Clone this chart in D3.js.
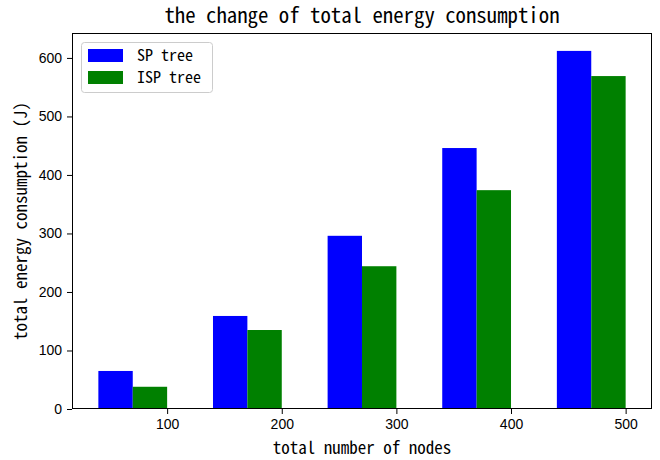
<!DOCTYPE html>
<html>
<head>
<meta charset="utf-8">
<script src="https://cdn.jsdelivr.net/npm/d3@7"></script>
<style>
  html, body { margin: 0; padding: 0; background: #fff; }
  svg { display: block; }
  .lbl { font-family: "Noto Sans Mono CJK SC", "DejaVu Sans Mono", monospace; font-weight: 300; fill: #000; }
  .tick text { font-family: "Liberation Sans", Arial, sans-serif; }
</style>
</head>
<body>
<svg id="chart" width="660" height="460"></svg>
<script>
// Node counts on the x axis and total energy (J) for each tree type
const nodeCounts = [100, 200, 300, 400, 500];
const spTree = [65, 159, 296, 446, 612];
const ispTree = [38, 135, 244, 374, 569];
const seriesNames = ["SP tree", "ISP tree"];
const seriesColors = ["#0000ff", "#008000"];
const xTicks = [100, 200, 300, 400, 500];
const yTicks = [0, 100, 200, 300, 400, 500, 600];

const barWidth = 30;
const margin = { left: 72, right: 8, top: 33, bottom: 51 };
const W = 660, H = 460;

const svg = d3.select("#chart");

const x = d3.scaleLinear()
  .domain([17, 523])
  .range([margin.left, W - margin.right]);
const y = d3.scaleLinear()
  .domain([0, 612 * 1.05])
  .range([H - margin.bottom, margin.top]);

// bars: SP tree sits left of the tick, ISP tree ends at the tick
const series = [spTree, ispTree];
series.forEach((vals, si) => {
  svg.append("g")
    .selectAll("rect")
    .data(nodeCounts.map((n, i) => ({ n, v: vals[i] })))
    .join("rect")
    .attr("x", d => x(d.n - barWidth * (2 - si)))
    .attr("width", d => x(d.n - barWidth * (1 - si)) - x(d.n - barWidth * (2 - si)))
    .attr("y", d => y(d.v))
    .attr("height", d => y(0) - y(d.v))
    .attr("fill", seriesColors[si]);
});

// axes
const xAxis = svg.append("g")
  .attr("transform", `translate(0,${H - margin.bottom})`)
  .call(d3.axisBottom(x).tickValues(xTicks).tickSize(5).tickPadding(5));
const yAxis = svg.append("g")
  .attr("transform", `translate(${margin.left},0)`)
  .call(d3.axisLeft(y).tickValues(yTicks).tickSize(5).tickPadding(5));
[xAxis, yAxis].forEach(g => {
  g.select(".domain").remove();
  g.selectAll(".tick line").attr("stroke", "#000").attr("stroke-width", 1);
  g.selectAll(".tick text").attr("font-size", 14).attr("fill", "#000");
});

// frame
svg.append("rect")
  .attr("x", margin.left + 0.5)
  .attr("y", margin.top + 0.5)
  .attr("width", W - margin.right - margin.left - 1)
  .attr("height", H - margin.bottom - margin.top - 1)
  .attr("fill", "none")
  .attr("stroke", "#000")
  .attr("stroke-width", 1);

// title and axis labels
const cx = (margin.left + W - margin.right) / 2;
svg.append("text").attr("class", "lbl")
  .attr("x", cx).attr("y", 23)
  .attr("text-anchor", "middle").attr("font-size", 20.8)
  .text("the change of total energy consumption");
svg.append("text").attr("class", "lbl")
  .attr("x", cx).attr("y", 454)
  .attr("text-anchor", "middle").attr("font-size", 17)
  .text("total number of nodes");
svg.append("text").attr("class", "lbl")
  .attr("transform", `translate(27,${(margin.top + H - margin.bottom) / 2}) rotate(-90)`)
  .attr("text-anchor", "middle").attr("font-size", 17)
  .text("total energy consumption (J)");

// legend
const legend = svg.append("g");
legend.append("rect")
  .attr("x", 81.5).attr("y", 42.5).attr("width", 131).attr("height", 50)
  .attr("rx", 3).attr("fill", "#fff").attr("fill-opacity", 0.8)
  .attr("stroke", "#cccccc").attr("stroke-width", 1);
seriesNames.forEach((name, i) => {
  legend.append("rect")
    .attr("x", 88).attr("y", 49 + i * 22).attr("width", 35).attr("height", 13)
    .attr("fill", seriesColors[i]);
  legend.append("text").attr("class", "lbl")
    .attr("x", 137).attr("y", 61 + i * 22).attr("font-size", 16)
    .text(name);
});
</script>
</body>
</html>
